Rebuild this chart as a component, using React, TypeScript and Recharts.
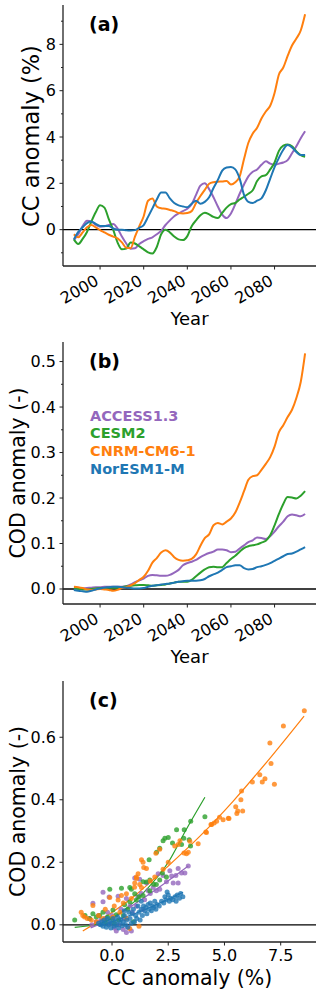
import React from "react"
import {
  LineChart,
  Line,
  ComposedChart,
  Scatter,
  XAxis,
  YAxis,
  ReferenceLine,
} from "recharts"

// ---- data ----
const years = [
  1988, 1990, 1992, 1994, 1996, 1998, 2000, 2002, 2004, 2006,
  2008, 2010, 2012, 2014, 2016, 2018, 2020, 2022, 2024, 2026,
  2028, 2030, 2032, 2034, 2036, 2038, 2040, 2042, 2044, 2046,
  2048, 2050, 2052, 2054, 2056, 2058, 2060, 2062, 2064, 2066,
  2068, 2070, 2072, 2074, 2076, 2078, 2080, 2082, 2084, 2086,
  2088, 2090, 2092, 2094,
]

// (a) cloud cover anomaly (%)
const ccAccess = [
  -0.45, -0.2, 0.15, 0.38, 0.35, 0.2, 0.13, 0.15, 0.2, 0.24,
  0.05, -0.3, -0.6, -0.82, -0.8, -0.62, -0.5, -0.4, -0.33, -0.2,
  -0.05, 0.2, 0.4, 0.58, 0.7, 0.8, 0.9, 1.1, 1.5, 1.9,
  2.0, 1.75, 1.4, 1.0, 0.65, 0.5, 0.7, 1.1, 1.55, 1.95,
  2.3, 2.5, 2.6, 2.8, 2.95, 2.85, 2.8, 2.85, 2.9, 3.0,
  3.3, 3.6, 3.95, 4.25,
]
const ccCesm = [
  -0.42, -0.62, -0.4, -0.1, 0.35, 0.75, 1.05, 0.95, 0.45, 0.0,
  -0.55, -0.85, -0.82, -0.55, -0.6, -0.72, -0.85, -0.98, -1.03, -0.75,
  -0.2, 0.0, -0.12, -0.3, -0.42, -0.45, -0.28, 0.15, 0.4, 0.62,
  0.73, 0.66, 0.55, 0.5, 0.72, 0.95, 1.1, 1.15, 1.3, 1.42,
  1.55, 1.7, 2.1, 2.3, 2.35, 2.6, 2.9, 3.4, 3.63, 3.68,
  3.6, 3.38, 3.22, 3.15,
]
const ccCnrm = [
  -0.2, -0.33, -0.12, 0.1, 0.2, 0.1, -0.02, -0.12, -0.22, -0.3,
  -0.38, -0.55, -0.78, -0.8, -0.3, 0.15, 0.58, 1.25, 1.35, 1.0,
  0.92, 0.9, 0.85, 0.8, 0.72, 0.7, 0.72, 0.8, 1.15, 1.45,
  1.72, 1.98, 2.05, 2.07, 2.08, 2.1, 1.95, 2.05, 2.3, 3.05,
  3.75, 4.15, 4.4, 4.8, 5.1, 5.35, 5.9, 6.7, 7.0, 7.5,
  7.95, 8.25, 8.6, 9.3,
]
const ccNoresm = [
  -0.42, -0.1, 0.1, 0.28, 0.35, 0.25, 0.16, 0.16, 0.16, 0.05,
  0.0, 0.0, -0.03, -0.04, -0.02, 0.08, 0.2, 0.55, 0.92, 1.3,
  1.6, 1.6, 1.35, 1.15, 1.05, 1.0, 0.97, 1.12, 1.25, 1.12,
  1.2, 1.4, 1.8, 2.15, 2.55, 2.68, 2.7, 2.6, 2.2, 1.5,
  1.2, 1.15, 1.25, 1.35, 1.7, 2.2, 2.7, 3.1, 3.45, 3.65,
  3.55, 3.35, 3.22, 3.22,
]

// (b) cloud optical depth anomaly (-)
const codAccess = [
  0.0, 0.0, 0.001, 0.002, 0.003, 0.004, 0.004, 0.005, 0.005, 0.005,
  0.005, 0.005, 0.006, 0.01, 0.015, 0.019, 0.023, 0.029, 0.031, 0.03,
  0.029, 0.029, 0.031, 0.036, 0.042, 0.052, 0.057, 0.06, 0.064, 0.07,
  0.075, 0.079, 0.082, 0.087, 0.087, 0.085, 0.081, 0.082, 0.089, 0.096,
  0.103, 0.107, 0.113, 0.112, 0.11, 0.116, 0.126, 0.138, 0.148, 0.16,
  0.164, 0.162, 0.16, 0.165,
]
const codCesm = [
  0.002, 0.0, -0.001, -0.001, 0.0, 0.001, 0.002, 0.002, 0.003, 0.003,
  0.003, 0.004, 0.006, 0.007, 0.008, 0.009, 0.009, 0.008, 0.007, 0.008,
  0.009, 0.01, 0.012, 0.014, 0.016, 0.016, 0.016, 0.02, 0.028, 0.036,
  0.043, 0.048, 0.049, 0.048, 0.048, 0.057, 0.066, 0.073, 0.082, 0.09,
  0.094, 0.096, 0.098, 0.102, 0.106, 0.118, 0.14, 0.165, 0.187, 0.202,
  0.201, 0.199, 0.205, 0.215,
]
const codCnrm = [
  0.005, 0.004, 0.002, -0.001, -0.002, -0.001, 0.0, -0.001, -0.002, -0.004,
  -0.002, 0.002, 0.004, 0.008, 0.013, 0.02, 0.027, 0.04, 0.058, 0.068,
  0.08, 0.085, 0.08, 0.07, 0.064, 0.062, 0.063, 0.066, 0.076, 0.095,
  0.112, 0.12, 0.14, 0.145, 0.142, 0.148, 0.155, 0.168, 0.19, 0.215,
  0.24, 0.248, 0.25, 0.262, 0.275, 0.29, 0.313, 0.345, 0.36, 0.378,
  0.394, 0.42, 0.455, 0.518,
]
const codNoresm = [
  -0.002, -0.004, -0.005, -0.006, -0.004, -0.001, 0.001, 0.003, 0.004, 0.005,
  0.005, 0.004, 0.003, 0.002, 0.001, 0.001, 0.002, 0.005, 0.007, 0.008,
  0.01, 0.011, 0.012, 0.014, 0.016, 0.017, 0.018, 0.018, 0.018, 0.019,
  0.022, 0.028, 0.032, 0.036, 0.042, 0.048, 0.05, 0.052, 0.052, 0.046,
  0.043, 0.044, 0.048, 0.05, 0.053, 0.057, 0.062, 0.067, 0.072, 0.077,
  0.078, 0.082, 0.087, 0.092,
]

// (c) CC anomaly (%) vs COD anomaly (-) pairs
const scatterAccess: [number, number][] = [
  [-1.0, 0.02], [-0.9, 0.0], [-0.85, 0.069], [-0.7, 0.01], [-0.6, 0.03], [-0.5, 0.015],
  [-0.4, 0.104], [-0.4, 0.074], [-0.3, 0.02], [-0.2, 0.04], [-0.13, 0.089], [-0.1, 0.005],
  [0.0, 0.03], [0.1, -0.01], [0.19, -0.02], [0.27, 0.091], [0.3, 0.0], [0.4, 0.05],
  [0.5, -0.015], [0.55, 0.02], [0.64, 0.084], [0.64, -0.025], [0.71, -0.008], [0.8, 0.06],
  [0.86, -0.02], [0.9, 0.04], [1.01, 0.15], [1.08, 0.059], [1.15, 0.09], [1.23, 0.146],
  [1.3, 0.1], [1.38, 0.049], [1.45, 0.08], [1.53, 0.134], [1.6, 0.11], [1.7, 0.1],
  [1.83, 0.119], [1.97, 0.109], [2.05, 0.163], [2.12, 0.114], [2.27, 0.158], [2.42, 0.138],
  [2.57, 0.173], [2.65, 0.156], [2.72, 0.134], [2.84, 0.158], [2.94, 0.18], [2.94, 0.134],
  [3.09, 0.166], [3.24, 0.166], [3.39, 0.188],
]
const scatterCesm: [number, number][] = [
  [-1.66, 0.015], [-1.2, 0.03], [-1.0, 0.02], [-0.85, 0.035], [-0.7, 0.025], [-0.55, 0.03],
  [-0.4, 0.04], [-0.3, 0.01], [-0.2, 0.025], [-0.1, 0.114], [0.0, 0.02], [0.04, 0.047],
  [0.1, 0.005], [0.19, 0.032], [0.3, 0.015], [0.42, 0.117], [0.5, 0.03], [0.56, 0.064],
  [0.7, 0.05], [0.79, 0.119], [0.79, 0.074], [0.86, 0.114], [0.95, 0.01], [1.01, 0.099],
  [1.08, 0.079], [1.2, 0.09], [1.38, 0.138], [1.38, 0.094], [1.53, 0.137], [1.65, 0.208],
  [1.68, 0.143], [1.68, 0.109], [1.85, 0.13], [1.97, 0.129], [1.98, 0.232], [2.12, 0.245],
  [2.12, 0.143], [2.24, 0.166], [2.27, 0.269], [2.35, 0.277], [2.42, 0.153], [2.5, 0.279],
  [2.69, 0.262], [2.87, 0.304], [3.09, 0.257], [3.19, 0.277], [3.21, 0.304], [3.43, 0.272],
  [3.49, 0.252], [3.5, 0.331], [4.13, 0.346],
]
const scatterCnrm: [number, number][] = [
  [-1.37, 0.04], [-1.3, 0.03], [-1.22, 0.025], [-1.1, 0.02], [-0.92, 0.015], [-0.85, 0.062],
  [-0.7, 0.01], [-0.6, 0.03], [-0.4, 0.02], [-0.3, 0.05], [-0.1, 0.087], [0.04, 0.025],
  [0.1, 0.06], [0.27, 0.079], [0.35, 0.04], [0.42, 0.094], [0.5, 0.07], [0.64, 0.099],
  [0.64, 0.02], [0.79, -0.012], [0.86, 0.084], [1.0, 0.12], [1.01, 0.134], [1.08, 0.153],
  [1.09, 0.148], [1.16, 0.163], [1.2, -0.005], [1.23, 0.129], [1.31, 0.119], [1.31, 0.208],
  [1.38, 0.2], [1.41, 0.183], [1.53, 0.18], [1.7, 0.14], [1.9, 0.153], [1.95, 0.229],
  [2.12, 0.242], [2.27, 0.178], [2.5, 0.2], [2.79, 0.252], [2.94, 0.257], [3.02, 0.269],
  [3.2, 0.23], [3.31, 0.227], [3.39, 0.232], [3.46, 0.267], [3.83, 0.259], [4.17, 0.297],
  [4.2, 0.295], [4.4, 0.321], [4.43, 0.321], [4.54, 0.326], [4.65, 0.331], [4.78, 0.344],
  [4.94, 0.336], [5.17, 0.341], [5.2, 0.34], [5.5, 0.378], [5.55, 0.356], [5.59, 0.364],
  [5.73, 0.4], [5.76, 0.428], [5.81, 0.364], [6.24, 0.457], [6.57, 0.48], [6.68, 0.457],
  [6.8, 0.467], [7.02, 0.582], [7.07, 0.516], [7.22, 0.45], [7.62, 0.636], [8.55, 0.685],
]
const scatterNoresm: [number, number][] = [
  [-0.6, 0.005], [-0.5, 0.0], [-0.45, 0.01], [-0.4, -0.005], [-0.35, 0.015], [-0.3, 0.005],
  [-0.25, -0.008], [-0.2, 0.02], [-0.15, 0.0], [-0.1, 0.01], [-0.05, -0.01], [0.0, 0.005],
  [0.05, 0.02], [0.1, -0.005], [0.15, 0.012], [0.2, 0.0], [0.25, 0.025], [0.3, -0.01],
  [0.35, 0.008], [0.4, 0.018], [0.45, -0.003], [0.5, 0.01], [0.55, 0.03], [0.6, 0.0],
  [0.65, 0.015], [0.7, -0.008], [0.8, 0.02], [0.85, 0.005], [0.9, 0.035], [1.0, 0.01],
  [1.05, 0.03], [1.1, 0.02], [1.2, 0.04], [1.25, 0.015], [1.3, 0.05], [1.35, 0.03],
  [1.4, 0.06], [1.45, 0.045], [1.5, 0.055], [1.55, 0.035], [1.6, 0.065], [1.65, 0.05],
  [1.7, 0.07], [1.75, 0.045], [1.8, 0.06], [1.85, 0.055], [1.9, 0.075], [1.95, 0.05],
  [2.0, 0.065], [2.1, 0.06], [2.2, 0.075], [2.3, 0.07], [2.35, 0.09], [2.4, 0.08],
  [2.45, 0.105], [2.5, 0.095], [2.55, 0.075], [2.6, 0.085], [2.7, 0.08], [2.8, 0.09],
  [2.85, 0.075], [2.9, 0.095], [3.0, 0.085], [3.05, 0.1], [3.15, 0.09], [0.55, 0.045],
  [0.75, 0.04], [0.95, 0.05], [1.15, 0.06], [1.3, 0.075],
]

// fitted curves in (c)
const fitAccess: [number, number][] = [[-0.95, -0.01], [0.0, 0.02], [0.86, 0.059], [2.0, 0.115], [3.39, 0.188]]
const fitCesm: [number, number][] = [[-1.66, -0.008], [-0.5, 0.005], [0.5, 0.045], [1.5, 0.11], [2.5, 0.2], [3.3, 0.305], [4.13, 0.408]]
const fitCnrm: [number, number][] = [[-1.3, -0.02], [0.94, 0.089], [2.42, 0.183], [4.0, 0.29], [5.39, 0.396], [6.87, 0.52], [8.54, 0.668]]
const fitNoresm: [number, number][] = [[-0.6, -0.005], [0.42, 0.02], [1.5, 0.05], [3.16, 0.104]]

const models = ["ACCESS1.3", "CESM2", "CNRM-CM6-1", "NorESM1-M"]
const colors = ["#9467bd", "#2ca02c", "#ff7f0e", "#1f77b4"]

const yearTicks = [2000, 2020, 2040, 2060, 2080]
const ccTicks = [-1, 0, 1, 2, 3, 4, 5, 6, 7, 8, 9]
const codTicks = [0, 0.05, 0.1, 0.15, 0.2, 0.25, 0.3, 0.35, 0.4, 0.45, 0.5]
const cTicksY = [0, 0.2, 0.4, 0.6]
const cTicksX = [0, 2.5, 5, 7.5]

const ccSeries = [ccAccess, ccCesm, ccCnrm, ccNoresm]
const codSeries = [codAccess, codCesm, codCnrm, codNoresm]
const scatterSeries = [scatterAccess, scatterCesm, scatterCnrm, scatterNoresm]
const fitSeries = [fitAccess, fitCesm, fitCnrm, fitNoresm]
const keys = ["access", "cesm", "cnrm", "noresm"]

const ccData = years.map((year, i) => {
  const row: any = { year }
  keys.forEach((k, j) => (row[k] = ccSeries[j][i]))
  return row
})
const codData = years.map((year, i) => {
  const row: any = { year }
  keys.forEach((k, j) => (row[k] = codSeries[j][i]))
  return row
})
const toPts = (arr: [number, number][]) => arr.map(([x, y]) => ({ x, y }))

const FONT = "'DejaVu Sans', sans-serif"
const AXIS = "#222"

function makeYTick(isMajor: (v: number) => boolean, fmt: (v: number) => string) {
  return function YTick(props: any) {
    const { x, y, payload } = props
    const v = payload.value
    const major = isMajor(v)
    return (
      <g>
        <line x1={x} x2={x - (major ? 3.5 : 2)} y1={y} y2={y} stroke={AXIS} strokeWidth={1} />
        {major && (
          <text x={x - 7} y={y} textAnchor="end" dominantBaseline="central" fontSize={16} fontFamily={FONT} fill="#000">
            {fmt(v)}
          </text>
        )}
      </g>
    )
  }
}

function RotTick(props: any) {
  const { x, y, payload } = props
  return (
    <g>
      <line x1={x} x2={x} y1={y} y2={y + 3.5} stroke={AXIS} strokeWidth={1} />
      <text
        transform={`translate(${x - 6},${y + 8}) rotate(-30)`}
        textAnchor="end"
        dy={11.5}
        fontSize={16}
        fontFamily={FONT}
        fill="#000"
      >
        {payload.value}
      </text>
    </g>
  )
}

function FlatTick(props: any) {
  const { x, y, payload } = props
  return (
    <g>
      <line x1={x} x2={x} y1={y} y2={y + 3.5} stroke={AXIS} strokeWidth={1} />
      <text x={x} y={y + 19} textAnchor="middle" fontSize={16} fontFamily={FONT} fill="#000">
        {payload.value.toFixed(1)}
      </text>
    </g>
  )
}

const CcTick = makeYTick(v => v % 2 === 0, v => String(v))
const CodTick = makeYTick(v => Math.round(v * 100) % 10 === 0, v => v.toFixed(1))
const CTick = makeYTick(() => true, v => v.toFixed(1))

export default function App() {
  return (
    <div style={{ position: "absolute", left: 0, top: 0, width: 320, height: 995, background: "#fff" }}>
      {/* (a) */}
      <div style={{ position: "absolute", left: 0, top: 0 }}>
        <LineChart width={320} height={330} data={ccData} margin={{ top: 5, right: 4, bottom: 0, left: 0 }}>
          <XAxis
            dataKey="year"
            type="number"
            domain={[1983, 2099]}
            ticks={yearTicks}
            interval={0}
            height={64}
            tickSize={0}
            tickMargin={0}
            tick={<RotTick />}
            axisLine={{ stroke: AXIS, strokeWidth: 1.3 }}
            tickLine={false}
            allowDataOverflow
          />
          <YAxis
            type="number"
            domain={[-1.57, 9.7]}
            ticks={ccTicks}
            interval={0}
            width={63}
            tickSize={0}
            tickMargin={0}
            tick={<CcTick />}
            axisLine={{ stroke: AXIS, strokeWidth: 1.3 }}
            tickLine={false}
            allowDataOverflow
          />
          <ReferenceLine y={0} stroke="#000" strokeWidth={1.3} />
          {keys.map((k, j) => (
            <Line key={k} dataKey={k} type="monotone" stroke={colors[j]} strokeWidth={2} dot={false} isAnimationActive={false} />
          ))}
        </LineChart>
      </div>

      {/* (b) */}
      <div style={{ position: "absolute", left: 0, top: 330 }}>
        <LineChart width={320} height={338} data={codData} margin={{ top: 12, right: 4, bottom: 0, left: 0 }}>
          <XAxis
            dataKey="year"
            type="number"
            domain={[1983, 2099]}
            ticks={yearTicks}
            interval={0}
            height={64}
            tickSize={0}
            tickMargin={0}
            tick={<RotTick />}
            axisLine={{ stroke: AXIS, strokeWidth: 1.3 }}
            tickLine={false}
            allowDataOverflow
          />
          <YAxis
            type="number"
            domain={[-0.033, 0.543]}
            ticks={codTicks}
            interval={0}
            width={63}
            tickSize={0}
            tickMargin={0}
            tick={<CodTick />}
            axisLine={{ stroke: AXIS, strokeWidth: 1.3 }}
            tickLine={false}
            allowDataOverflow
          />
          <ReferenceLine y={0} stroke="#000" strokeWidth={1.3} />
          {keys.map((k, j) => (
            <Line key={k} dataKey={k} type="monotone" stroke={colors[j]} strokeWidth={2} dot={false} isAnimationActive={false} />
          ))}
        </LineChart>
      </div>

      {/* (c) */}
      <div style={{ position: "absolute", left: 0, top: 660 }}>
        <ComposedChart width={320} height={335} margin={{ top: 21, right: 4, bottom: 0, left: 0 }}>
          <XAxis
            dataKey="x"
            type="number"
            domain={[-2.18, 9.07]}
            ticks={cTicksX}
            interval={0}
            height={53}
            tickSize={0}
            tickMargin={0}
            tick={<FlatTick />}
            axisLine={{ stroke: AXIS, strokeWidth: 1.3 }}
            tickLine={false}
            allowDataOverflow
          />
          <YAxis
            dataKey="y"
            type="number"
            domain={[-0.055, 0.78]}
            ticks={cTicksY}
            interval={0}
            width={63}
            tickSize={0}
            tickMargin={0}
            tick={<CTick />}
            axisLine={{ stroke: AXIS, strokeWidth: 1.3 }}
            tickLine={false}
            allowDataOverflow
          />
          <ReferenceLine y={0} stroke="#000" strokeWidth={1.3} />
          {scatterSeries.map((s, j) => (
            <Scatter
              key={`pts-${j}`}
              data={toPts(s)}
              dataKey="y"
              isAnimationActive={false}
              shape={(p: any) => <circle cx={p.cx} cy={p.cy} r={2.5} fill={colors[j]} fillOpacity={0.8} />}
            />
          ))}
          {fitSeries.map((s, j) => (
            <Line
              key={`fit-${j}`}
              data={toPts(s)}
              dataKey="y"
              type="monotone"
              stroke={colors[j]}
              strokeWidth={1.2}
              dot={false}
              isAnimationActive={false}
            />
          ))}
        </ComposedChart>
      </div>

      {/* titles, panel letters and legend */}
      <svg width={320} height={995} style={{ position: "absolute", left: 0, top: 0, pointerEvents: "none" }} fontFamily={FONT}>
        <text x={89} y={31} fontSize={19} fontWeight="bold">(a)</text>
        <text x={89} y={368} fontSize={19} fontWeight="bold">(b)</text>
        <text x={89} y={707} fontSize={19} fontWeight="bold">(c)</text>

        <text transform="translate(39,136) rotate(-90)" textAnchor="middle" fontSize={22.5}>CC anomaly (%)</text>
        <text transform="translate(25,473) rotate(-90)" textAnchor="middle" fontSize={20.5}>COD anomaly (-)</text>
        <text transform="translate(25,811.5) rotate(-90)" textAnchor="middle" fontSize={20.5}>COD anomaly (-)</text>

        <text x={189.5} y={325} textAnchor="middle" fontSize={18}>Year</text>
        <text x={189.5} y={663} textAnchor="middle" fontSize={18}>Year</text>
        <text x={189.5} y={985} textAnchor="middle" fontSize={20.5}>CC anomaly (%)</text>

        {models.map((m, j) => (
          <text key={m} x={90} y={420.7 + j * 17.6} fontSize={14.5} fontWeight="bold" fill={colors[j]}>
            {m}
          </text>
        ))}
      </svg>
    </div>
  )
}
